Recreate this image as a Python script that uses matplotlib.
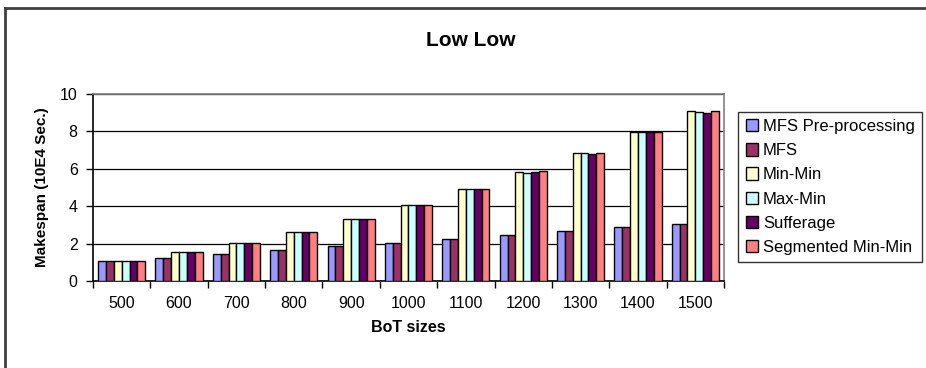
import numpy as np
import matplotlib.pyplot as plt
from matplotlib.lines import Line2D

plt.rcParams['font.family'] = ['Liberation Sans', 'DejaVu Sans']

#========== DATA ==========#

bot_sizes = ["500", "600", "700", "800", "900", "1000", "1100", "1200", "1300", "1400", "1500"]

mfs_pre = [1.05, 1.25, 1.45, 1.67, 1.87, 2.05, 2.26, 2.48, 2.67, 2.89, 3.07]
mfs = [1.05, 1.24, 1.45, 1.67, 1.87, 2.05, 2.26, 2.48, 2.67, 2.89, 3.07]
min_min = [1.08, 1.53, 2.05, 2.64, 3.34, 4.09, 4.92, 5.85, 6.86, 7.95, 9.08]
max_min = [1.08, 1.53, 2.05, 2.64, 3.34, 4.09, 4.92, 5.78, 6.86, 7.95, 9.03]
sufferage = [1.08, 1.53, 2.05, 2.64, 3.34, 4.09, 4.92, 5.82, 6.79, 7.95, 8.96]
seg_min_min = [1.08, 1.53, 2.05, 2.64, 3.34, 4.09, 4.92, 5.87, 6.86, 7.95, 9.08]

series_names = ["MFS Pre-processing", "MFS", "Min-Min", "Max-Min", "Sufferage", "Segmented Min-Min"]
series_colors = ["#9999FF", "#993366", "#FFFFCC", "#CCFFFF", "#660066", "#FF8080"]

#========== PLOT ==========#

fig = plt.figure(figsize=(9.26, 3.68), dpi=100)
ax = fig.add_axes([93 / 926, 1 - 281 / 368, (724 - 93) / 926, (281 - 94) / 368])

# outer chart frame (left and top edges visible)
fig.add_artist(Line2D([4.5 / 926, 4.5 / 926], [0, 1 - 8 / 368], transform=fig.transFigure,
                      color="#404040", lw=2))
fig.add_artist(Line2D([4.5 / 926, 1], [1 - 8 / 368, 1 - 8 / 368], transform=fig.transFigure,
                      color="#404040", lw=2))

values = [mfs_pre, mfs, min_min, max_min, sufferage, seg_min_min]
x = np.arange(len(bot_sizes))
width = 0.137
for k, (vals, name, col) in enumerate(zip(values, series_names, series_colors)):
    ax.bar(x + (k - 2.5) * width, vals, width, color=col, edgecolor="black",
           linewidth=1.0, label=name, zorder=3)

ax.set_xlim(-0.5, len(bot_sizes) - 0.5)
ax.set_ylim(0, 10)
ax.set_yticks(np.arange(0, 11, 2))
ax.yaxis.grid(True, color="black", linewidth=0.9, zorder=0)
ax.set_axisbelow(True)

# category ticks sit between groups, labels in the middle
ax.set_xticks(np.arange(-0.5, len(bot_sizes), 1.0))
ax.set_xticklabels([])
ax.set_xticks(x, minor=True)
ax.set_xticklabels(bot_sizes, minor=True, fontsize=11.5)
ax.tick_params(axis="x", which="minor", length=0, pad=11)
ax.tick_params(axis="x", which="major", direction="out", length=5, width=1)
ax.tick_params(axis="y", direction="out", length=5, width=1, labelsize=11.5, pad=6)

for side in ("top", "right"):
    ax.spines[side].set_color("#808080")
    ax.spines[side].set_linewidth(1.2)
for side in ("left", "bottom"):
    ax.spines[side].set_color("black")
    ax.spines[side].set_linewidth(1.2)

fig.text(471 / 926, 1 - 41 / 368, "Low Low", fontsize=15, fontweight="bold",
         ha="center", va="center")
ax.set_xlabel("BoT sizes", fontsize=11.5, fontweight="bold", labelpad=6)
ax.set_ylabel("Makespan (10E4 Sec.)", fontsize=11, fontweight="bold", labelpad=8)

leg = ax.legend(loc="center left", bbox_to_anchor=(738 / 926, 1 - 187 / 368),
                bbox_transform=fig.transFigure,
                frameon=True, fancybox=False, fontsize=12, handlelength=0.75,
                handleheight=0.75, handletextpad=0.3, labelspacing=0.55, borderpad=0.45,
                borderaxespad=0)
leg.get_frame().set_edgecolor("black")
leg.get_frame().set_linewidth(1.0)
for h in leg.legend_handles:
    h.set_linewidth(1.0)

fig.savefig("out.png", dpi=100)
